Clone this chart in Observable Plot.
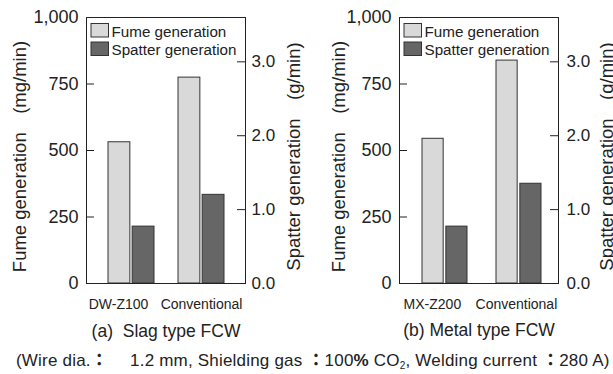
<!DOCTYPE html>
<html><head><meta charset="utf-8">
<script src="https://cdn.jsdelivr.net/npm/d3@7"></script>
<script src="https://cdn.jsdelivr.net/npm/@observablehq/plot@0.6"></script>
<style>
body{margin:0;background:#fff;}
#root{position:relative;width:613px;height:374px;overflow:hidden;font-family:"Liberation Sans",Arial,sans-serif;color:#222;background:#fff;}
.panel{position:absolute;top:0;}
#foot{position:absolute;left:16px;top:349px;font-size:17px;white-space:pre;line-height:20px;letter-spacing:0.2px;}
#foot .c{font-family:"Noto Sans CJK JP",sans-serif;font-weight:bold;}
#foot sub{font-size:10px;vertical-align:baseline;position:relative;top:3px;}
</style></head><body><div id="root"></div>
<script>
const categoriesA = ["DW-Z100", "Conventional"];
const fumeA = [531, 774];
const spatterA = [0.77, 1.20];
const categoriesB = ["MX-Z200", "Conventional"];
const fumeB = [544, 838];
const spatterB = [0.77, 1.35];
const fumeTicks = [0, 250, 500, 750, 1000];
const spatterTicks = [0, 1, 2, 3];
const fumeMax = 1000, spatterMax = 3.6;
const seriesNames = ["Fume generation", "Spatter generation"];
const seriesColors = ["#d9d9d9", "#666666"];
const leftLabel = "Fume generation\u2003(mg/min)";
const rightLabel = "Spatter generation\u2003(g/min)";
const captions = ["(a)\u00a0 Slag type FCW", "(b) Metal type FCW"];
const K = fumeMax / spatterMax;
const FONT = "'Liberation Sans', Arial, sans-serif";

function panel(o) {
  const data = o.cats.map((c, i) => ({cat: c, fume: o.fume[i], spatter: o.spatter[i]}));
  const inner = o.width - 86 - o.marginRight;
  const step = inner / (o.cats.length - o.pi + 2 * o.po);
  const half = step * (1 - o.pi) / 2;
  const fmt = d3.format(",");
  const svg = Plot.plot({
    width: o.width, height: 346,
    marginLeft: 86, marginRight: o.marginRight, marginTop: 17, marginBottom: 63,
    style: {fontFamily: FONT, fontSize: "15px", background: "transparent", overflow: "visible", color: "#222"},
    x: {domain: o.cats, paddingInner: o.pi, paddingOuter: o.po, align: o.align, axis: null},
    y: {domain: [0, fumeMax], axis: null},
    marks: [
      Plot.barY(data, {x: "cat", y: "fume", fill: seriesColors[0], stroke: "#333", insetRight: half + 1.2}),
      Plot.barY(data, {x: "cat", y: d => d.spatter * K, fill: seriesColors[1], stroke: "#333", insetLeft: half + 1.2}),
      Plot.frame({stroke: "#222"}),
      // left ticks (inward) and labels
      Plot.tickY(fumeTicks.slice(1, -1), {y: d => d, stroke: "#222", insetRight: inner - 8}),
      Plot.text(fumeTicks, {y: d => d, text: d => fmt(d), frameAnchor: "left", textAnchor: "end", lineAnchor: "middle", dx: -8, fontSize: 18}),
      // right ticks (inward) and labels
      Plot.tickY(spatterTicks.slice(1), {y: d => d * K, stroke: "#222", insetLeft: inner - 8}),
      Plot.text(spatterTicks, {y: d => d * K, text: d => d.toFixed(1), frameAnchor: "right", textAnchor: "start", lineAnchor: "middle", dx: o.rightPad, fontSize: 17}),
      ...o.cats.map((c, i) => Plot.text([c], {x: d => d, text: d => d, frameAnchor: "bottom", textAnchor: "middle", lineAnchor: "top", dy: 16, dx: o.labelDx[i], fontSize: 14})),
      Plot.text([o.caption], {text: d => d, frameAnchor: "bottom", textAnchor: "middle", lineAnchor: "top", dy: o.captionDy, fontSize: 17.5}),
      Plot.text([leftLabel], {text: d => d, frameAnchor: "left", rotate: -90, textAnchor: "middle", lineAnchor: "middle", dx: o.leftDx, dy: 6, fontSize: 18.5}),
      Plot.text([rightLabel], {text: d => d, frameAnchor: "right", rotate: -90, textAnchor: "middle", lineAnchor: "middle", dx: 49, dy: 6, fontSize: 18.5})
    ]
  });
  // legend inside the frame
  const g = d3.select(svg).append("g").attr("font-family", FONT).attr("font-size", 15.2)
    .attr("fill", "#222").attr("text-anchor", "start");
  seriesNames.forEach((name, i) => {
    g.append("rect").attr("x", 86 + 5).attr("y", 23.5 + i * 18.5).attr("width", 17.5).attr("height", 13.5)
      .attr("fill", seriesColors[i]).attr("stroke", "#333");
    g.append("text").attr("x", 86 + 25.5).attr("y", 36.5 + i * 18.2).attr("text-anchor", "start").text(name);
  });
  svg.classList.add("panel");
  svg.style.left = o.left + "px";
  return svg;
}

const root = document.getElementById("root");
root.appendChild(panel({cats: categoriesA, fume: fumeA, spatter: spatterA, caption: captions[0],
  width: 313, marginRight: 68, pi: 0.346, po: 0.306, align: 0.5, labelDx: [-13, 0], captionDy: 41, leftDx: -66, rightPad: 6, left: 0}));
root.appendChild(panel({cats: categoriesB, fume: fumeB, spatter: spatterB, caption: captions[1],
  width: 300, marginRight: 55, pi: 0.394, po: 0.261, align: 0.564, labelDx: [-12.6, -2.6], captionDy: 40, leftDx: -60, rightPad: 8, left: 313}));

const foot = document.createElement("div");
foot.id = "foot";
foot.innerHTML = '(Wire dia.<span class="c">：</span>\u3000 1.2 mm, Shielding gas <span class="c">：</span>100<b>%</b> CO<sub>2</sub>, Welding current <span class="c">：</span>280 A)';
root.appendChild(foot);
</script></body></html>
